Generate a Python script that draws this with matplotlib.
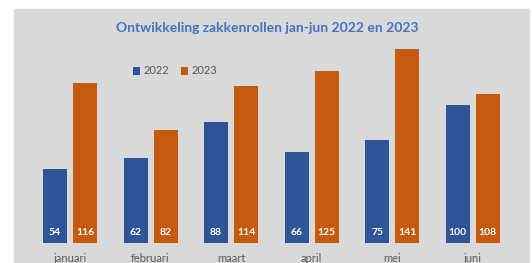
import matplotlib
matplotlib.use("Agg")
import matplotlib.pyplot as plt
import numpy as np
from matplotlib.patches import Rectangle

months = ["januari", "februari", "maart", "april", "mei", "juni"]
v2022 = [54, 62, 88, 66, 75, 100]
v2023 = [116, 82, 114, 125, 141, 108]

blue = "#2F5597"
orange = "#C55A11"
grey_bg = "#D9D9D9"
txt = "#595959"
plt.rcParams["font.family"] = ["Lato", "DejaVu Sans"]

W, H = 532, 263
fig = plt.figure(figsize=(W / 100, H / 100), dpi=100, facecolor="white")
# grey chart area, behind everything
fig.patches.append(Rectangle((14 / W, 0), 515 / W, (H - 9) / H,
                             transform=fig.transFigure, color=grey_bg, zorder=-10))

ax = fig.add_axes([14 / W, 20 / H, 515 / W, 234 / H])
ax.set_facecolor("none")
x = np.arange(len(months))
off, bw = 0.186, 0.298
b1 = ax.bar(x - off, v2022, bw, color=blue, label="2022")
b2 = ax.bar(x + off, v2023, bw, color=orange, label="2023")
for bars in (b1, b2):
    for r in bars:
        ax.text(r.get_x() + r.get_width() / 2, 4, f"{int(r.get_height())}",
                ha="center", va="bottom", color="white", fontsize=7.5, fontweight="bold")
ax.set_xlim(-0.696, 5.70)
ax.set_ylim(0, 170)
ax.set_xticks(x)
ax.set_xticklabels(months, color=txt, fontsize=8)
ax.tick_params(length=0, pad=7)
ax.set_yticks([])
for s in ax.spines.values():
    s.set_visible(False)

fig.text(267 / W, 1 - 28 / H, "Ontwikkeling zakkenrollen jan-jun 2022 en 2023",
         ha="center", va="center", color="#4472C4", fontsize=10, fontweight="bold")
fig.legend(loc="center", bbox_to_anchor=(175 / W, 1 - 71 / H), ncol=2, frameon=False,
           fontsize=8, labelcolor=txt, handlelength=0.7, handleheight=0.7,
           handletextpad=0.3, columnspacing=1.0)

fig.savefig("out.png", dpi=100)
